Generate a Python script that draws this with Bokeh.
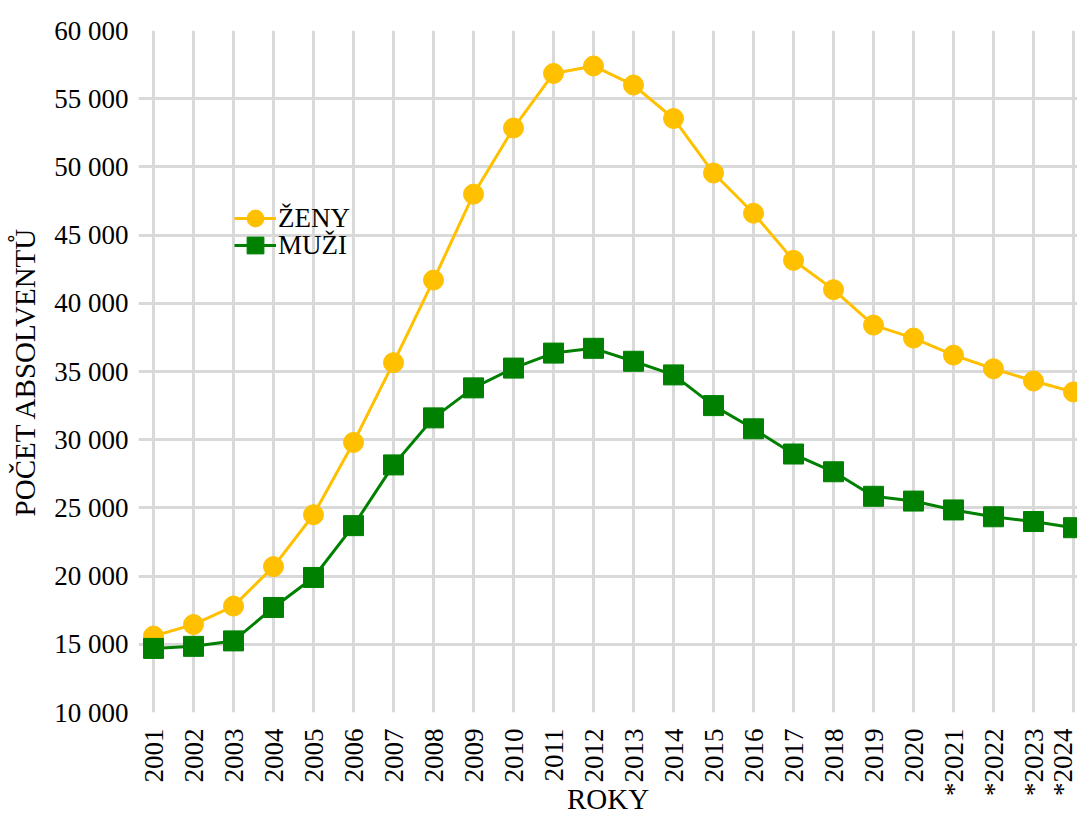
import math
from bokeh.plotting import figure
from bokeh.models import FixedTicker, Range1d, Legend, LegendItem
from bokeh.embed import file_html
from bokeh.resources import INLINE

years = ["2001", "2002", "2003", "2004", "2005", "2006", "2007", "2008", "2009", "2010",
         "2011", "2012", "2013", "2014", "2015", "2016", "2017", "2018", "2019", "2020",
         "*2021", "*2022", "*2023", "*2024"]
zeny = [15600, 16450, 17800, 20700, 24500, 29800, 35650, 41700, 48000, 52850,
        56850, 57400, 56000, 53550, 49550, 46600, 43150, 41000, 38400, 37450,
        36200, 35200, 34300, 33500]
muzi = [14700, 14850, 15250, 17700, 19900, 23700, 28150, 31600, 33800, 35250,
        36350, 36700, 35750, 34750, 32500, 30800, 28950, 27650, 25850, 25500,
        24850, 24350, 24000, 23550]
y_ticks = [10000, 15000, 20000, 25000, 30000, 35000, 40000, 45000, 50000, 55000, 60000]

YEL = "#FFC000"
GRN = "#008000"
FONT = "Liberation Serif"
FS_TICK = "27px"
FS_TITLE = "29px"

x = list(range(len(years)))

p = figure(width=1077, height=818, output_backend="svg", toolbar_location=None,
           x_range=Range1d(-0.375, 23.1), y_range=Range1d(y_ticks[0], y_ticks[-1]),
           min_border_left=138, min_border_right=0, min_border_top=30,
           min_border_bottom=105)
p.outline_line_color = None
p.background_fill_color = "white"
p.border_fill_color = "white"

# grids
p.xgrid.ticker = FixedTicker(ticks=x)
p.ygrid.ticker = FixedTicker(ticks=y_ticks[1:-1])
for g in (p.xgrid, p.ygrid):
    g.grid_line_color = "#d9d9d9"
    g.grid_line_width = 3

# axes
xa = p.xaxis[0]
xa.ticker = FixedTicker(ticks=x)
xa.major_label_overrides = {i: years[i] for i in x}
xa.major_label_orientation = math.pi / 2
xa.major_label_standoff = 16
xa.axis_label = "ROKY"
xa.axis_label_standoff = -16

ya = p.yaxis[0]
ya.ticker = FixedTicker(ticks=y_ticks)
ya.major_label_overrides = {t: f"{t:,}".replace(",", " ") for t in y_ticks}
ya.axis_label = "POČET ABSOLVENTŮ"
ya.major_label_standoff = 10
ya.axis_label_standoff = 10

for ax in (xa, ya):
    ax.axis_line_color = None
    ax.major_tick_line_color = None
    ax.minor_tick_line_color = None
    ax.major_tick_out = 0
    ax.major_tick_in = 0
    ax.major_label_text_font = FONT
    ax.major_label_text_font_size = FS_TICK
    ax.major_label_text_color = "black"
    ax.axis_label_text_font = FONT
    ax.axis_label_text_font_size = FS_TITLE
    ax.axis_label_text_font_style = "normal"
    ax.axis_label_text_color = "black"

# series
l1 = p.line(x, zeny, line_color=YEL, line_width=3)
c1 = p.scatter(x, zeny, marker="circle", size=20, fill_color=YEL, line_color=YEL)
l2 = p.line(x, muzi, line_color=GRN, line_width=3)
c2 = p.scatter(x, muzi, marker="square", size=20, fill_color=GRN, line_color=GRN)


def make_legend(label, rends, loc):
    lg = Legend(items=[LegendItem(label=label, renderers=rends)], location=loc)
    lg.border_line_color = None
    lg.background_fill_alpha = 0
    lg.padding = 0
    lg.margin = 0
    lg.spacing = 0
    lg.glyph_width = 42
    lg.glyph_height = 42
    lg.label_height = 27
    lg.label_standoff = 2
    lg.label_text_font = FONT
    lg.label_text_font_size = "27px"
    lg.label_text_color = "black"
    return lg


p.add_layout(make_legend("ŽENY", [l1, c1], (96, 473)))
p.add_layout(make_legend("MUŽI", [l2, c2], (96, 446)))

open("out.html", "w").write(file_html(p, INLINE))
